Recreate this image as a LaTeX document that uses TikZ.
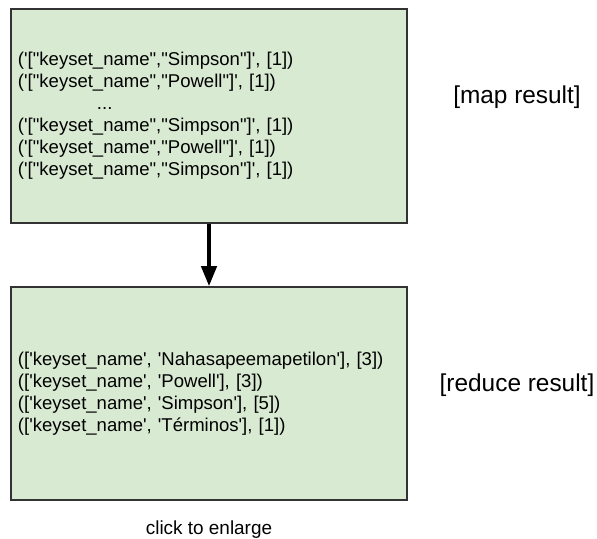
\documentclass[tikz,border=0pt]{standalone}
\usepackage{fontspec}
\setmainfont{Liberation Sans}[Ligatures=TeXOff]
\usepackage{xcolor}
\usetikzlibrary{arrows.meta,positioning}
\definecolor{resgreen}{HTML}{D9EAD3}
\definecolor{resborder}{HTML}{333333}

\begin{document}
\begin{tikzpicture}[
  x=1bp,y=-1bp,
  node distance=45bp,
  resbox/.style={rectangle,draw=resborder,line width=1.5bp,fill=resgreen,minimum width=396bp,text width=382bp,align=left,inner sep=7bp,font=\fontsize{18.6}{22}\selectfont},
  tag/.style={font=\fontsize{24.5}{28}\selectfont},
  edge/.style={-{Triangle[length=20bp,width=15bp]},line width=4bp}]
\useasboundingbox (0,0) rectangle (597,539);
\node[resbox,minimum height=214bp] (map) at (209,116) {('["keyset\_name","Simpson"]', [1])\\
('["keyset\_name","Powell"]', [1])\\
\hspace*{79bp}...\\
('["keyset\_name","Simpson"]', [1])\\
('["keyset\_name","Powell"]', [1])\\
('["keyset\_name","Simpson"]', [1])};
\node[resbox,minimum height=213bp] (reduce) at (209,393.5) {(['keyset\_name', 'Nahasapeemapetilon'], [3])\\
(['keyset\_name', 'Powell'], [3])\\
(['keyset\_name', 'Simpson'], [5])\\
(['keyset\_name', 'Términos'], [1])};
\node[tag] (maptag) at (517,97) {[map result]};
\node[tag] (reducetag) at (517,385) {[reduce result]};
\node[font=\fontsize{19}{22}\selectfont,below=17bp of reduce] (enlarge) {click to enlarge};
\draw[edge] (map) -- (reduce);
\end{tikzpicture}
\end{document}
